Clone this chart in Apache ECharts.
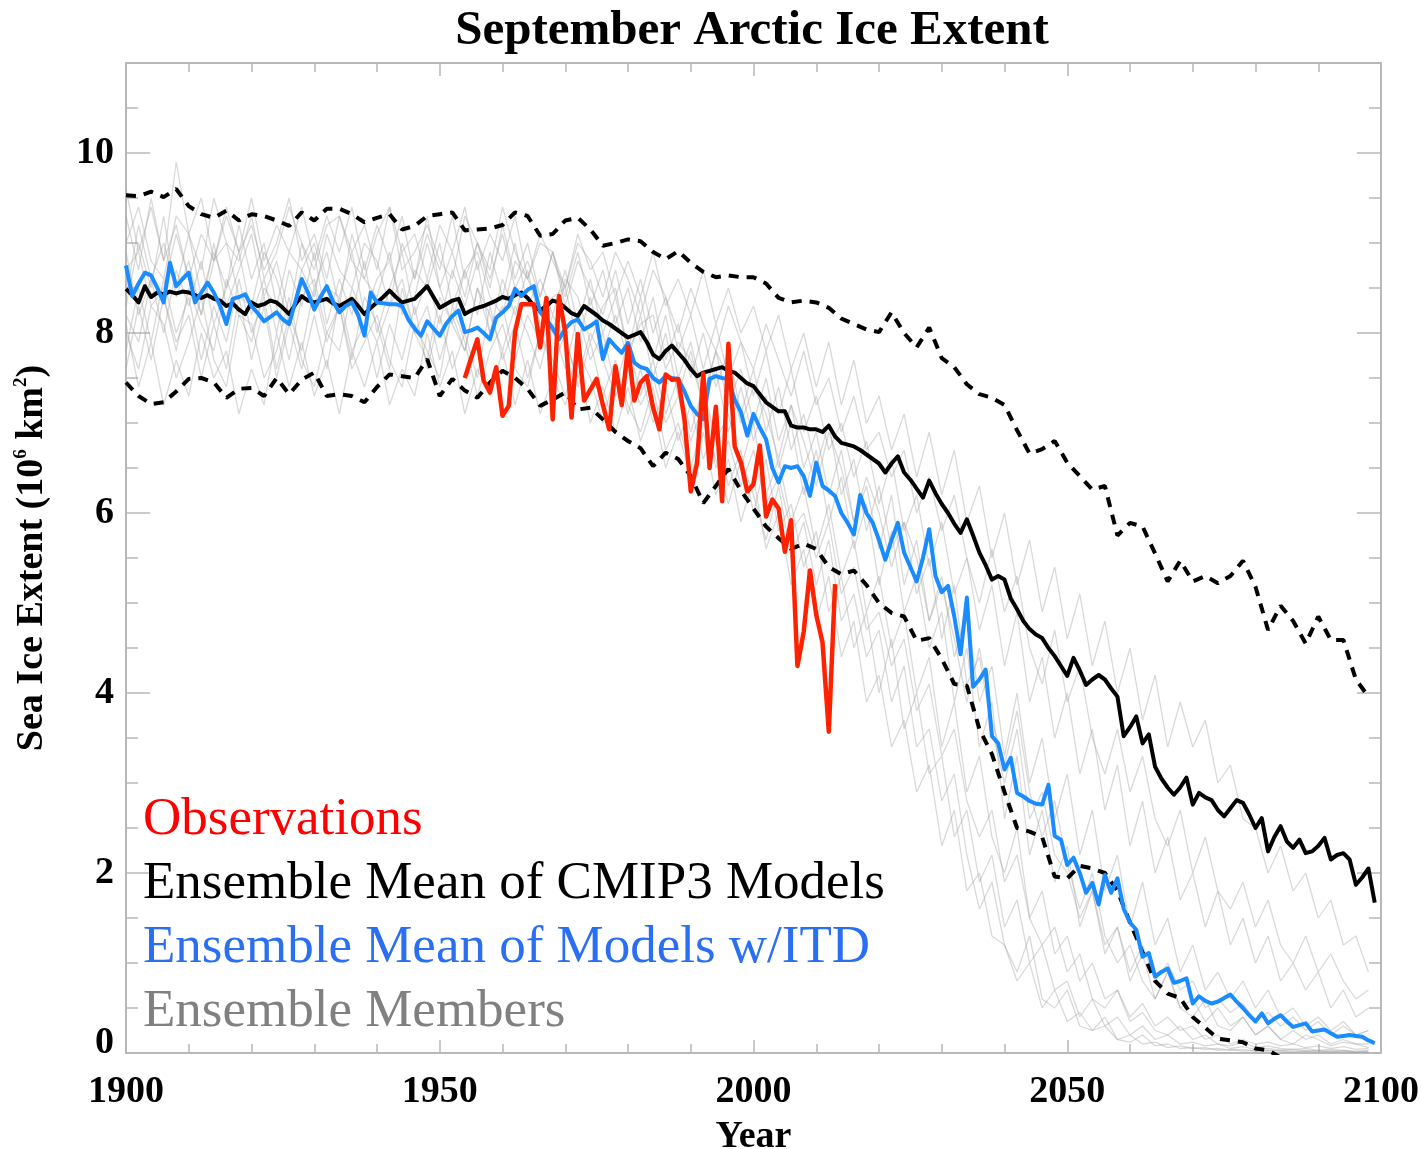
<!DOCTYPE html>
<html>
<head>
<meta charset="utf-8">
<script src="https://cdn.jsdelivr.net/npm/echarts@6/dist/echarts.min.js"></script>
<style>
html,body{margin:0;padding:0;background:#fff;}
#chart{width:1421px;height:1149px;}
</style>
</head>
<body>
<div id="chart"></div>
<script>
// ---------------- text ----------------
const TITLE = 'September Arctic Ice Extent';
const X_NAME = 'Year';
const Y_NAME = 'Sea Ice Extent (10{sup|6} km{sup|2})';
const LEGEND_LABELS = ['Observations', 'Ensemble Mean of CMIP3 Models', 'Ensemble Mean of Models w/ITD', 'Ensemble Members'];

// ---------------- axes ----------------
const X_MIN = 1900, X_MAX = 2100, X_STEP = 50;
const Y_MIN = 0, Y_MAX = 11, Y_STEP = 2, Y_MINOR = 0.5;

// ---------------- observations (annual, from 1954) ----------------
const OBS_START = 1954;
const observations = [
  7.50, 7.72, 7.93, 7.47, 7.34, 7.62,
  7.08, 7.19, 8.01, 8.32, 8.32, 8.32, 7.84, 8.39, 7.04, 8.41,
  8.01, 7.06, 7.99, 7.25, 7.37, 7.49, 7.20, 6.93, 7.63, 7.20,
  7.85, 7.25, 7.45, 7.52, 7.17, 6.93, 7.54, 7.48, 7.49, 7.04,
  6.24, 6.55, 7.55, 6.50, 7.18, 6.13, 7.88, 6.74, 6.56, 6.24,
  6.32, 6.75, 5.96, 6.15, 6.05, 5.57, 5.92, 4.30, 4.68, 5.36,
  4.87, 4.56, 3.57, 5.21
];

// ---------------- CMIP3 ensemble mean (annual, 1900-2099) ----------------
const MEAN_START = 1900;
const cmip3Mean = [
  8.49, 8.42, 8.34, 8.52, 8.40, 8.45, 8.43, 8.46, 8.44, 8.46,
  8.45, 8.42, 8.39, 8.42, 8.38, 8.36, 8.30, 8.33, 8.26, 8.21,
  8.34, 8.30, 8.32, 8.36, 8.34, 8.28, 8.21, 8.32, 8.41, 8.36,
  8.34, 8.36, 8.38, 8.33, 8.30, 8.34, 8.38, 8.30, 8.21, 8.28,
  8.34, 8.40, 8.47, 8.40, 8.34, 8.36, 8.38, 8.45, 8.52, 8.40,
  8.28, 8.32, 8.36, 8.38, 8.21, 8.25, 8.28, 8.30, 8.33, 8.36,
  8.40, 8.38, 8.42, 8.45, 8.39, 8.30, 8.25, 8.30, 8.36, 8.34,
  8.28, 8.22, 8.19, 8.30, 8.25, 8.20, 8.14, 8.10, 8.05, 8.00,
  7.95, 7.98, 8.01, 7.90, 7.76, 7.71, 7.80, 7.86, 7.78, 7.70,
  7.60, 7.52, 7.56, 7.58, 7.60, 7.62, 7.58, 7.56, 7.50, 7.44,
  7.41, 7.32, 7.23, 7.18, 7.13, 7.13, 6.97, 6.95, 6.95, 6.93,
  6.93, 6.90, 6.97, 6.85, 6.78, 6.76, 6.74, 6.70, 6.65, 6.60,
  6.55, 6.45, 6.55, 6.63, 6.45, 6.37, 6.27, 6.17, 6.36, 6.22,
  6.10, 6.00, 5.88, 5.78, 5.93, 5.75, 5.56, 5.42, 5.26, 5.30,
  5.26, 5.05, 4.93, 4.80, 4.71, 4.65, 4.61, 4.50, 4.41, 4.30,
  4.19, 4.39, 4.25, 4.09, 4.15, 4.20, 4.15, 4.05, 3.96, 3.52,
  3.62, 3.74, 3.44, 3.54, 3.18, 3.05, 2.95, 2.87, 2.95, 3.06,
  2.76, 2.89, 2.84, 2.81, 2.70, 2.63, 2.72, 2.81, 2.78, 2.65,
  2.50, 2.61, 2.24, 2.40, 2.52, 2.35, 2.28, 2.37, 2.22, 2.24,
  2.30, 2.39, 2.15, 2.20, 2.22, 2.15, 1.87, 1.95, 2.05, 1.67
];

// ---------------- ITD ensemble mean (annual, 1900-2099) ----------------
const itdMean = [
  8.75, 8.41, 8.55, 8.67, 8.64, 8.50, 8.34, 8.78, 8.52, 8.60,
  8.67, 8.34, 8.45, 8.56, 8.45, 8.30, 8.10, 8.38, 8.40, 8.43,
  8.30, 8.22, 8.13, 8.18, 8.23, 8.15, 8.10, 8.35, 8.60, 8.45,
  8.26, 8.40, 8.52, 8.35, 8.23, 8.30, 8.34, 8.20, 7.97, 8.45,
  8.34, 8.33, 8.32, 8.32, 8.30, 8.15, 8.05, 7.97, 8.13, 8.05,
  7.97, 8.10, 8.19, 8.25, 8.01, 8.03, 8.06, 8.00, 7.93, 8.17,
  8.23, 8.30, 8.49, 8.41, 8.48, 8.52, 8.23, 8.15, 8.05, 7.93,
  8.05, 8.12, 8.15, 8.04, 8.08, 8.13, 7.71, 7.93, 7.85, 7.78,
  7.89, 7.67, 7.62, 7.60, 7.50, 7.45, 7.52, 7.50, 7.49, 7.35,
  7.19, 7.10, 7.04, 7.49, 7.52, 7.50, 7.49, 7.26, 7.12, 6.86,
  7.10, 6.95, 6.82, 6.50, 6.34, 6.52, 6.50, 6.52, 6.41, 6.19,
  6.56, 6.30, 6.25, 6.19, 6.00, 5.89, 5.76, 6.20, 6.00, 5.89,
  5.70, 5.48, 5.70, 5.89, 5.56, 5.40, 5.24, 5.50, 5.82, 5.30,
  5.12, 5.19, 4.85, 4.43, 5.06, 4.07, 4.15, 4.26, 3.52, 3.44,
  3.15, 3.28, 2.89, 2.85, 2.80, 2.77, 2.76, 2.98, 2.41, 2.37,
  2.09, 2.17, 2.00, 1.78, 1.89, 1.65, 1.98, 1.78, 1.94, 1.60,
  1.45, 1.37, 1.07, 1.11, 0.85, 0.90, 0.94, 0.78, 0.80, 0.83,
  0.55, 0.63, 0.58, 0.55, 0.57, 0.61, 0.65, 0.57, 0.50, 0.42,
  0.35, 0.44, 0.33, 0.38, 0.42, 0.35, 0.29, 0.31, 0.33, 0.24,
  0.25, 0.26, 0.22, 0.18, 0.19, 0.20, 0.19, 0.18, 0.14, 0.11
];

// ---------------- dashed spread lines (every 2 years from 1900) ----------------
const SPREAD_START = 1900, SPREAD_STEP = 2;
const spreadUpper = [
  9.53, 9.52, 9.57, 9.51, 9.60, 9.41, 9.32, 9.28, 9.36, 9.25,
  9.32, 9.30, 9.25, 9.19, 9.34, 9.25, 9.38, 9.38, 9.32, 9.23,
  9.28, 9.32, 9.15, 9.19, 9.30, 9.32, 9.34, 9.14, 9.15, 9.16,
  9.20, 9.34, 9.30, 9.08, 9.10, 9.25, 9.28, 9.15, 8.97, 9.00,
  9.04, 9.02, 8.90, 8.82, 8.91, 8.78, 8.68, 8.62, 8.64, 8.62,
  8.62, 8.55, 8.39, 8.34, 8.36, 8.34, 8.28, 8.16, 8.10, 8.04,
  8.01, 8.23, 8.00, 7.84, 8.06, 7.72, 7.62, 7.43, 7.32, 7.28,
  7.20, 6.92, 6.66, 6.71, 6.80, 6.56, 6.41, 6.26, 6.30, 5.75,
  5.89, 5.85, 5.55, 5.24, 5.47, 5.24, 5.30, 5.22, 5.30, 5.47,
  5.18, 4.70, 4.97, 4.80, 4.55, 4.85, 4.59, 4.59, 4.15, 3.96
];
const spreadLower = [
  7.45, 7.30, 7.21, 7.23, 7.35, 7.49, 7.50, 7.45, 7.28, 7.38,
  7.39, 7.30, 7.50, 7.32, 7.48, 7.56, 7.30, 7.32, 7.30, 7.23,
  7.40, 7.54, 7.52, 7.50, 7.71, 7.30, 7.49, 7.36, 7.28, 7.45,
  7.58, 7.50, 7.38, 7.19, 7.26, 7.34, 7.15, 7.17, 7.04, 6.90,
  6.80, 6.72, 6.52, 6.67, 6.60, 6.41, 6.11, 6.30, 6.49, 6.25,
  6.05, 5.85, 5.72, 5.60, 5.66, 5.60, 5.40, 5.32, 5.36, 5.20,
  5.00, 4.89, 4.85, 4.58, 4.61, 4.38, 4.10, 4.08, 3.60, 3.32,
  2.90, 2.50, 2.46, 2.40, 1.96, 1.94, 2.08, 2.05, 2.00, 1.80,
  1.45, 1.12, 0.80, 0.66, 0.61, 0.40, 0.28, 0.16, 0.14, 0.12,
  0.05, 0.03, -0.05, -0.20
];

// ---------------- ensemble members (every 2 years from 1900) ----------------
const MEMBER_START = 1900, MEMBER_STEP = 2;
const member1 = [
  9.3, 8.7, 9.5, 8.8, 9.2,  8.6, 9.1, 8.8, 9.4, 8.9,
  9.2, 8.7, 9.0, 9.5, 8.8,  9.1, 8.6, 9.3, 8.9, 9.2,
  8.7, 9.4, 8.9, 9.1, 8.6,  9.2, 8.9, 9.4, 8.7, 9.1,
  8.8, 9.3, 8.6, 9.0, 8.9,  8.5, 9.1, 8.7, 8.9, 8.4,
  8.8, 8.4, 8.9, 8.3, 8.6,  8.2, 8.7, 8.1, 8.5, 8.0,
  8.3, 7.8, 8.2, 7.6, 8.0,  7.4, 7.9, 7.2, 7.7, 7.0,
  7.3, 6.7, 7.1, 6.4, 6.9,  6.2, 6.7, 5.9, 6.3, 5.5,
  6.0, 5.2, 5.7, 4.9, 5.4,  4.6, 5.1, 4.3, 4.8, 4.0,
  4.5, 3.7, 4.2, 3.4, 3.9,  3.4, 3.7, 3.0, 3.2, 2.6,
  2.5, 2.0, 2.3, 1.8, 2.0,  1.5, 1.7, 1.2, 1.3, 0.9
];
const member2 = [
  8.4, 9.2, 8.6, 9.0, 8.5,  9.1, 8.4, 8.9, 8.5, 9.2,
  8.6, 9.0, 8.3, 8.9, 8.7,  8.4, 9.1, 8.7, 8.5, 9.0,
  8.8, 8.3, 9.0, 8.6, 9.3,  8.5, 8.9, 8.4, 9.0, 8.6,
  9.1, 8.5, 8.8, 8.4, 8.9,  8.3, 8.8, 8.5, 8.2, 8.7,
  8.1, 8.6, 8.0, 8.4, 7.8,  8.2, 7.6, 8.1, 7.5, 7.9,
  7.3, 7.8, 7.1, 7.6, 6.9,  7.3, 6.7, 7.0, 6.4, 6.8,
  6.1, 6.6, 5.8, 6.2, 5.4,  5.9, 5.1, 5.5, 4.7, 5.2,
  4.3, 4.9, 3.9, 4.4, 3.5,  4.0, 3.1, 3.6, 2.7, 3.2,
  2.3, 2.8, 2.0, 2.4, 1.7,  2.0, 1.4, 1.8, 1.2, 1.5,
  1.0, 1.3, 0.8, 1.0, 0.7,  0.9, 0.5, 0.7, 0.4, 0.5
];
const member3 = [
  8.9, 8.2, 8.6, 8.0, 8.7,  8.3, 8.8, 8.1, 8.5, 8.9,
  8.2, 8.6, 8.0, 8.7, 8.3,  8.9, 8.1, 8.6, 8.2, 8.8,
  8.0, 8.5, 8.9, 8.2, 8.6,  8.1, 8.7, 8.3, 8.8, 8.0,
  8.6, 8.2, 8.7, 8.1, 8.4,  8.5, 7.9, 8.4, 7.8, 8.2,
  7.7, 8.2, 7.5, 8.0, 7.3,  7.8, 7.2, 7.6, 6.9, 7.4,
  6.8, 7.3, 6.5, 7.0, 6.2,  6.7, 5.9, 6.4, 5.6, 6.1,
  5.2, 5.8, 4.9, 5.3, 4.5,  4.9, 3.9, 4.5, 3.4, 3.9,
  2.6, 3.3, 2.2, 2.7, 1.9,  2.3, 1.4, 1.8, 1.1, 1.4,
  0.8, 1.1, 0.6, 0.9, 0.5,  0.6, 0.35, 0.5, 0.3, 0.4,
  0.2, 0.3, 0.15, 0.25, 0.15,  0.2, 0.1, 0.15, 0.1, 0.1
];
const member4 = [
  7.8, 8.5, 7.9, 8.6, 8.0,  8.4, 7.7, 8.3, 7.9, 8.6,
  8.0, 8.4, 7.6, 8.2, 7.8,  8.5, 7.9, 8.3, 7.7, 8.4,
  8.1, 7.6, 8.5, 8.0, 8.3,  7.7, 8.2, 7.8, 8.5, 8.0,
  8.3, 7.7, 8.2, 7.9, 8.1,  7.6, 8.2, 7.7, 8.0, 7.4,
  7.9, 7.3, 7.7, 7.1, 7.5,  6.9, 7.4, 6.8, 7.1, 6.5,
  7.0, 6.2, 6.6, 5.9, 6.3,  5.6, 6.1, 5.3, 5.7, 4.9,
  5.3, 4.5, 4.9, 4.0, 4.4,  3.4, 3.9, 2.9, 3.3, 2.4,
  2.0, 2.5, 1.5, 1.8, 1.1,  1.3, 0.8, 1.0, 0.6, 0.7,
  0.4, 0.55, 0.3, 0.4, 0.25,  0.3, 0.15, 0.2, 0.1, 0.15,
  0.1, 0.12, 0.08, 0.1, 0.06,  0.08, 0.05, 0.07, 0.04, 0.05
];
const member5 = [
  8.1, 7.4, 7.9, 7.2, 7.7,  7.3, 8.0, 7.5, 7.8, 7.1,
  7.6, 7.2, 8.0, 7.4, 7.9,  7.3, 7.7, 7.1, 7.8, 7.4,
  7.9, 7.2, 7.6, 7.3, 8.0,  7.4, 7.8, 7.1, 7.6, 7.3,
  7.8, 7.2, 7.7, 7.1, 7.5,  7.2, 7.7, 7.0, 7.4, 6.9,
  7.4, 6.8, 7.2, 6.5, 6.9,  6.4, 6.9, 6.2, 6.6, 5.9,
  6.4, 5.6, 6.0, 5.2, 5.6,  4.8, 5.3, 4.4, 4.8, 3.9,
  4.2, 3.4, 3.7, 2.9, 3.2,  2.3, 2.7, 1.8, 2.0, 1.3,
  1.2, 0.8, 1.0, 0.5, 0.7,  0.35, 0.45, 0.25, 0.3, 0.15,
  0.2, 0.1, 0.12, 0.06, 0.08,  0.05, 0.06, 0.03, 0.04, 0.02,
  0.03, 0.02, 0.03, 0.02, 0.02,  0.02, 0.01, 0.02, 0.01, 0.01
];
const member6 = [
  8.3, 9.0, 8.5, 9.3, 8.4,  8.8, 8.2, 9.0, 8.3, 8.7,
  9.1, 8.4, 8.8, 8.2, 9.0,  8.5, 8.9, 8.3, 9.1, 8.6,
  8.4, 8.9, 8.2, 8.7, 8.5,  9.0, 8.3, 8.7, 8.2, 8.9,
  8.4, 9.0, 8.3, 8.6, 8.2,  8.7, 8.1, 8.6, 8.0, 8.4,
  7.8, 8.4, 7.7, 8.2, 7.5,  7.9, 7.3, 7.8, 7.2, 7.6,
  7.0, 7.5, 6.8, 7.2, 6.5,  6.9, 6.2, 6.7, 5.9, 6.3,
  5.6, 6.2, 5.2, 5.7, 4.8,  5.3, 4.4, 4.9, 3.9, 4.3,
  3.3, 4.0, 3.0, 3.5, 2.6,  3.1, 2.2, 2.7, 1.8, 2.2,
  1.4, 1.9, 1.2, 1.5, 0.9,  1.2, 0.7, 0.9, 0.6, 0.8,
  0.5, 0.7, 0.4, 0.5, 0.3,  0.4, 0.25, 0.35, 0.2, 0.25
];
const member7 = [
  7.6, 8.3, 7.7, 8.4, 7.9,  8.2, 7.5, 8.1, 7.6, 8.4,
  7.7, 8.3, 7.5, 8.1, 7.6,  8.2, 7.6, 8.4, 7.8, 8.1,
  7.5, 8.1, 7.7, 8.3, 7.6,  8.2, 7.6, 8.0, 7.5, 8.3,
  7.7, 8.1, 7.5, 8.0, 7.6,  8.0, 7.4, 7.9, 7.3, 7.7,
  7.1, 7.6, 7.0, 7.4, 6.8,  7.2, 6.6, 7.0, 6.3, 6.7,
  6.0, 6.6, 5.8, 6.1, 5.4,  5.8, 4.9, 5.3, 4.5, 4.9,
  4.0, 4.6, 3.6, 4.0, 3.1,  3.3, 2.4, 2.7, 1.9, 2.2,
  1.4, 1.7, 1.0, 1.2, 0.7,  0.8, 0.4, 0.6, 0.3, 0.4,
  0.2, 0.3, 0.15, 0.2, 0.1,  0.12, 0.08, 0.1, 0.05, 0.07,
  0.04, 0.05, 0.03, 0.04, 0.02,  0.03, 0.02, 0.03, 0.01, 0.02
];
const member8 = [
  9.6, 8.9, 9.4, 8.8, 9.9,  9.1, 9.5, 8.8, 9.3, 8.9,
  9.5, 8.8, 9.2, 8.9, 9.4,  8.8, 9.3, 8.9, 9.4, 8.7,
  9.2, 8.8, 9.3, 8.6, 9.1,  8.7, 9.3, 8.6, 9.0, 8.5,
  9.2, 8.6, 9.0, 8.4, 8.9,  8.4, 8.9, 8.3, 8.7, 8.1,
  8.5, 7.9, 8.4, 7.7, 8.1,  7.5, 8.0, 7.4, 7.8, 7.1,
  7.6, 6.9, 7.4, 6.7, 7.1,  6.5, 7.0, 6.2, 6.6, 5.8,
  6.3, 5.6, 5.9, 5.1, 5.5,  4.6, 5.2, 4.1, 4.4, 3.6,
  3.0, 3.6, 2.6, 2.9, 2.2,  2.0, 1.5, 1.8, 1.2, 1.4,
  0.9, 1.2, 0.8, 1.0, 0.7,  0.8, 0.5, 0.6, 0.45, 0.55,
  0.35, 0.45, 0.3, 0.4, 0.25,  0.35, 0.2, 0.3, 0.2, 0.25
];
const member9 = [
  8.7, 8.9, 8.3, 8.5, 9.1,  8.6, 8.2, 8.8, 9.0, 8.4,
  8.3, 8.9, 8.6, 8.1, 8.7,  9.0, 8.5, 8.4, 8.9, 8.2,
  8.6, 8.8, 8.3, 8.4, 9.0,  8.5, 8.1, 8.7, 8.9, 8.4,
  8.2, 8.8, 8.6, 8.3, 8.0,  8.6, 8.4, 7.9, 8.3, 8.5,
  7.8, 8.1, 8.2, 7.6, 7.9,  7.7, 7.2, 7.8, 7.5, 7.0,
  7.4, 7.1, 6.6, 7.2, 6.8,  6.3, 6.9, 6.5, 5.9, 6.4,
  6.0, 5.4, 5.9, 5.5, 4.8,  5.2, 4.6, 3.9, 4.5, 3.7,
  3.2, 3.8, 2.9, 2.4, 2.8,  2.1, 1.6, 2.0, 1.3, 1.0,
  1.2, 0.8, 0.6, 0.9, 0.5,  0.4, 0.6, 0.3, 0.25, 0.4,
  0.2, 0.3, 0.15, 0.1, 0.2,  0.15, 0.08, 0.12, 0.1, 0.06
];
const member10 = [
  8.0, 7.6, 8.3, 8.1, 7.5,  7.9, 8.4, 7.7, 7.4, 8.2,
  8.1, 7.5, 7.8, 8.4, 7.7,  7.4, 8.0, 8.3, 7.6, 7.9,
  8.2, 7.7, 7.4, 8.1, 7.8,  7.5, 8.3, 7.9, 7.3, 7.8,
  8.1, 7.6, 7.4, 8.0, 7.7,  7.3, 7.8, 7.5, 7.0, 7.6,
  7.2, 6.9, 7.4, 6.7, 7.0,  6.5, 7.0, 6.6, 6.1, 6.6,
  6.2, 5.7, 6.3, 5.5, 5.9,  5.2, 5.7, 4.8, 5.1, 4.4,
  4.7, 3.9, 4.3, 3.4, 3.6,  2.8, 3.1, 2.2, 1.6, 1.9,
  1.2, 0.9, 1.3, 0.6, 0.5,  0.7, 0.3, 0.25, 0.4, 0.15,
  0.12, 0.2, 0.08, 0.1, 0.05,  0.06, 0.04, 0.05, 0.03, 0.04,
  0.02, 0.03, 0.02, 0.01, 0.02,  0.01, 0.02, 0.01, 0.01, 0.01
];
const member11 = [
  9.0, 9.4, 8.8, 8.6, 9.3,  9.1, 8.7, 9.5, 9.0, 8.8,
  9.3, 8.6, 8.9, 9.4, 9.0,  8.7, 9.2, 9.3, 8.8, 8.6,
  9.1, 9.4, 8.7, 8.9, 9.2,  8.8, 8.6, 9.3, 9.0, 8.7,
  9.4, 8.9, 8.6, 9.1, 8.8,  8.5, 9.0, 8.8, 8.4, 8.9,
  8.6, 8.2, 8.7, 8.4, 8.0,  8.5, 8.1, 7.8, 8.3, 7.9,
  7.6, 8.1, 7.7, 7.3, 7.8,  7.2, 7.5, 6.9, 7.3, 6.7,
  6.9, 6.4, 6.7, 6.0, 6.4,  5.8, 6.2, 5.5, 5.0, 5.6,
  4.9, 5.3, 4.5, 4.1, 4.7,  3.9, 4.3, 3.5, 3.1, 3.6,
  2.9, 3.3, 2.6, 2.3, 2.7,  2.0, 2.4, 1.8, 1.6, 1.9,
  1.4, 1.7, 1.2, 1.0, 1.3,  0.9, 1.1, 0.8, 0.6, 0.7
];
const member12 = [
  8.2, 7.9, 8.6, 8.4, 7.8,  8.5, 8.1, 7.8, 8.6, 8.2,
  7.9, 8.5, 8.3, 7.7, 8.4,  8.6, 8.0, 7.8, 8.5, 8.2,
  7.9, 8.3, 8.6, 8.0, 7.7,  8.4, 8.1, 7.8, 8.5, 8.2,
  7.8, 8.3, 8.0, 7.6, 8.2,  7.9, 7.5, 8.0, 7.7, 7.3,
  7.6, 7.2, 7.5, 7.0, 7.3,  6.8, 7.2, 6.5, 6.8, 6.3,
  6.7, 6.1, 6.4, 5.8, 6.0,  5.5, 5.9, 5.1, 5.4, 4.7,
  4.9, 4.3, 4.6, 3.8, 4.1,  3.3, 3.6, 2.8, 2.4, 2.7,
  1.9, 2.2, 1.5, 1.2, 1.4,  0.9, 1.1, 0.6, 0.5, 0.7,
  0.35, 0.45, 0.25, 0.2, 0.3,  0.15, 0.2, 0.1, 0.08, 0.12,
  0.06, 0.08, 0.05, 0.04, 0.05,  0.03, 0.04, 0.03, 0.02, 0.03
];
const members = [member1, member2, member3, member4, member5, member6,
                 member7, member8, member9, member10, member11, member12];

// ---------------- styling ----------------
const SERIF = 'Liberation Serif, Times New Roman, serif';
const AXIS_GREY = '#b8b8b8';
const C_OBS = '#ff2200';
const C_CMIP = '#000000';
const C_ITD = '#1a8cff';
const C_MEMBER = '#a0a0a0';
const LEGEND_COLORS = ['#ff0000', '#000000', '#2a6ff2', '#808080'];

function toPairs(start, step, vals) {
  return vals.map(function (v, i) { return [start + i * step, v]; });
}

const chart = echarts.init(document.getElementById('chart'), null, { renderer: 'canvas' });

const series = [];
members.forEach(function (m) {
  series.push({
    name: 'Ensemble Members', type: 'line', xAxisIndex: 0, yAxisIndex: 0,
    data: toPairs(MEMBER_START, MEMBER_STEP, m),
    showSymbol: false, silent: true,
    lineStyle: { color: C_MEMBER, width: 1.3, opacity: 0.4 }
  });
});
series.push({
  name: 'Spread upper', type: 'line', data: toPairs(SPREAD_START, SPREAD_STEP, spreadUpper),
  showSymbol: false, silent: true,
  lineStyle: { color: '#000', width: 4, type: [10, 8], cap: 'butt' }
});
series.push({
  name: 'Spread lower', type: 'line', data: toPairs(SPREAD_START, SPREAD_STEP, spreadLower),
  showSymbol: false, silent: true,
  lineStyle: { color: '#000', width: 4, type: [10, 8], cap: 'butt' }
});
series.push({
  name: LEGEND_LABELS[1], type: 'line', data: toPairs(MEAN_START, 1, cmip3Mean),
  showSymbol: false, lineStyle: { color: C_CMIP, width: 4, join: 'round' }
});
series.push({
  name: LEGEND_LABELS[2], type: 'line', data: toPairs(MEAN_START, 1, itdMean),
  showSymbol: false, lineStyle: { color: C_ITD, width: 4, join: 'round' }
});
series.push({
  name: LEGEND_LABELS[0], type: 'line', data: toPairs(OBS_START, 1, observations),
  showSymbol: false, lineStyle: { color: C_OBS, width: 4.5, join: 'round' }
});

const tickStyle = { color: AXIS_GREY, width: 1.5 };
const labelStyle = { color: '#000', fontFamily: SERIF, fontWeight: 'bold', fontSize: 38 };

function xAx(pos, labels) {
  return {
    type: 'value', min: X_MIN, max: X_MAX, interval: X_STEP, position: pos,
    axisLine: { show: true, onZero: false, lineStyle: { color: AXIS_GREY, width: 2 } },
    axisTick: { show: true, inside: true, length: 13, lineStyle: tickStyle },
    minorTick: { show: true, splitNumber: 5, length: 9, lineStyle: tickStyle },
    splitLine: { show: false }, minorSplitLine: { show: false },
    axisLabel: labels ? Object.assign({ margin: 20, formatter: function (v) { return String(v); } }, labelStyle) : { show: false },
    name: labels ? X_NAME : '', nameLocation: 'middle', nameGap: 65,
    nameTextStyle: { color: '#000', fontFamily: SERIF, fontWeight: 'bold', fontSize: 38 }
  };
}
function yAx(pos, interval, len, labels, line) {
  const o = {
    type: 'value', min: Y_MIN, max: Y_MAX, interval: interval, position: pos,
    axisLine: { show: line, onZero: false, lineStyle: { color: AXIS_GREY, width: 2 } },
    axisTick: { show: true, inside: true, length: len, lineStyle: tickStyle },
    splitLine: { show: false },
    axisLabel: labels ? Object.assign({
      margin: 12, showMaxLabel: false,
      formatter: function (v) { return v === 0 ? '{z|0}' : String(v); },
      rich: { z: { fontFamily: SERIF, fontWeight: 'bold', fontSize: 38, color: '#000', padding: [0, 0, 20, 0] } }
    }, labelStyle) : { show: false }
  };
  if (labels) {
    o.name = Y_NAME;
    o.nameLocation = 'middle';
    o.nameGap = 74;
    o.nameTextStyle = {
      color: '#000', fontFamily: SERIF, fontWeight: 'bold', fontSize: 38,
      rich: { sup: { fontSize: 19, fontFamily: SERIF, fontWeight: 'bold', color: '#000', verticalAlign: 'top', lineHeight: 40 } }
    };
  }
  return o;
}

const graphics = [{
  type: 'text', x: 752, y: 31, silent: true,
  style: { text: TITLE, fill: '#000', font: 'bold 49px ' + SERIF, textAlign: 'center', textVerticalAlign: 'middle' }
}];
const LEGEND_Y = [820, 884, 948, 1012];
LEGEND_LABELS.forEach(function (t, i) {
  graphics.push({
    type: 'text', x: 143, y: LEGEND_Y[i], silent: true, z: 100,
    style: { text: t, fill: LEGEND_COLORS[i], font: '53px ' + SERIF, textAlign: 'left', textVerticalAlign: 'middle' }
  });
});

chart.setOption({
  animation: false,
  backgroundColor: '#fff',
  grid: { left: 126, right: 40, top: 63, bottom: 96, containLabel: false, outerBoundsMode: 'none' },
  xAxis: [xAx('bottom', true), xAx('top', false)],
  yAxis: [
    yAx('left', Y_STEP, 24, true, true),
    yAx('left', Y_MINOR, 12, false, false),
    yAx('right', Y_STEP, 24, false, true),
    yAx('right', Y_MINOR, 12, false, false)
  ],
  series: series,
  graphic: graphics
});
</script>
</body>
</html>
